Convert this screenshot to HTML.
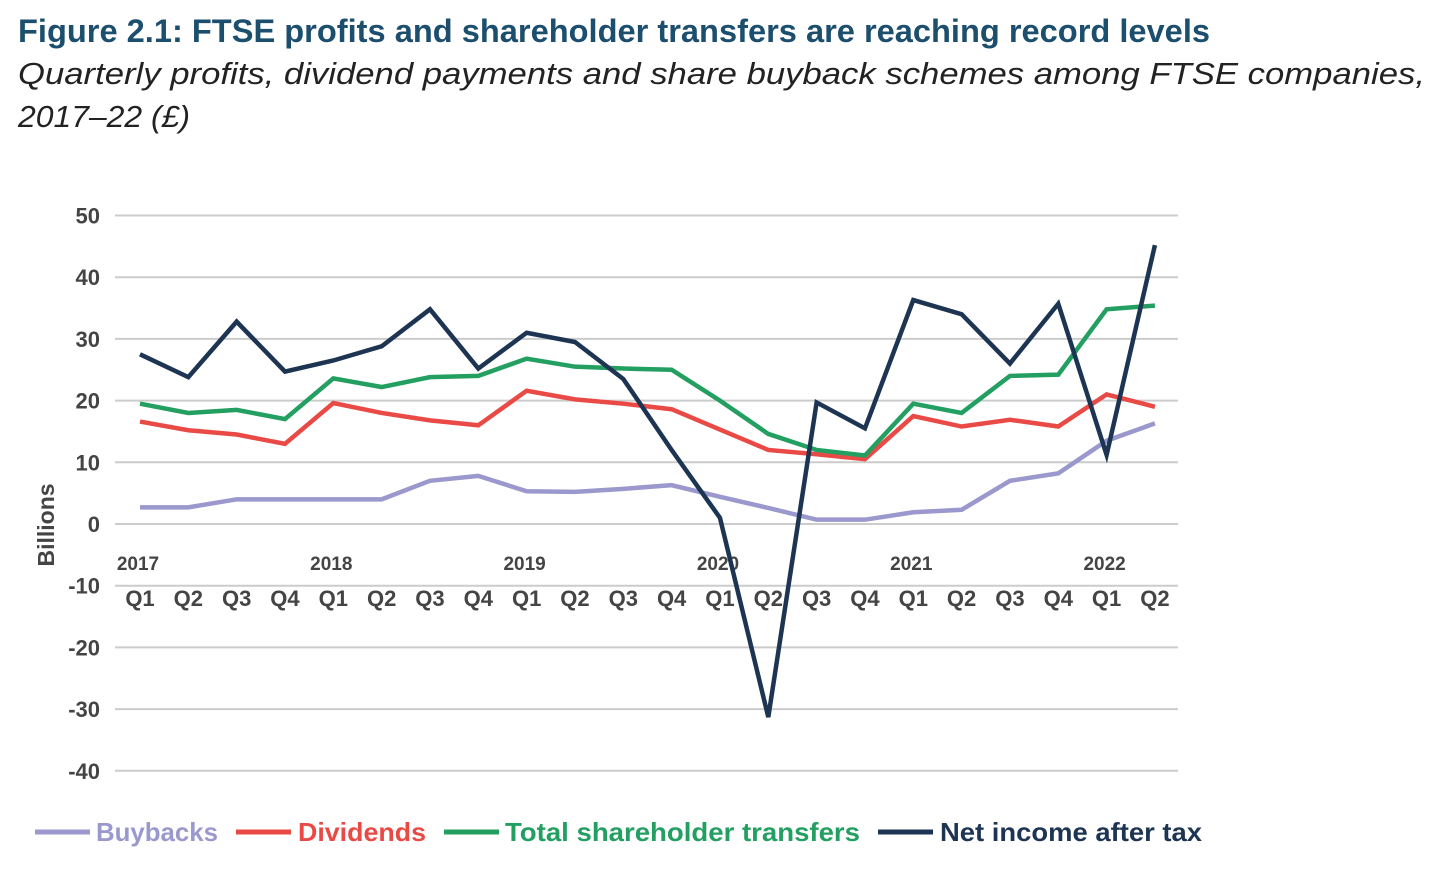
<!DOCTYPE html>
<html><head><meta charset="utf-8"><style>
body{margin:0;background:#fff;width:1448px;height:868px;overflow:hidden;font-family:"Liberation Sans",sans-serif}
</style></head><body>
<svg width="1448" height="868" xmlns="http://www.w3.org/2000/svg">
<text x="18" y="42" font-size="32" font-weight="bold" fill="#1c4e6e" textLength="1192" lengthAdjust="spacingAndGlyphs">Figure 2.1: FTSE profits and shareholder transfers are reaching record levels</text>
<text x="18" y="84" font-size="31" font-style="italic" fill="#222" textLength="1407" lengthAdjust="spacingAndGlyphs">Quarterly profits, dividend payments and share buyback schemes among FTSE companies,</text>
<text x="18" y="127" font-size="31" font-style="italic" fill="#222" textLength="172" lengthAdjust="spacingAndGlyphs">2017–22 (£)</text>
<g id="grid"></g><g id="axes"></g><g id="series"></g>
<text transform="translate(54,525) rotate(-90)" text-anchor="middle" font-size="23" font-weight="bold" fill="#444">Billions</text>
<g id="legend"></g>
</svg>
<script>
const quarters=["Q1","Q2","Q3","Q4","Q1","Q2","Q3","Q4","Q1","Q2","Q3","Q4","Q1","Q2","Q3","Q4","Q1","Q2","Q3","Q4","Q1","Q2"];
const years=["2017","2018","2019","2020","2021","2022"];
const yTicks=[50,40,30,20,10,0,-10,-20,-30,-40];
const buybacks=[2.7,2.7,4,4,4,4,7,7.8,5.3,5.2,5.7,6.3,4.4,2.6,0.7,0.7,1.9,2.3,7,8.2,13.5,16.3];
const dividends=[16.6,15.2,14.5,13,19.6,18,16.8,16,21.6,20.2,19.5,18.6,15.3,12,11.3,10.5,17.5,15.8,16.9,15.8,21,19];
const totalTransfers=[19.5,18,18.5,17,23.6,22.2,23.8,24,26.8,25.5,25.2,25,20,14.6,12,11.1,19.5,18,24,24.2,34.8,35.4];
const netIncome=[27.5,23.8,32.8,24.7,26.5,28.8,34.8,25.2,31,29.5,23.5,12,1,-31.3,19.7,15.5,36.3,34,26,35.7,11.2,45.2];
const NS="http://www.w3.org/2000/svg";
const y=v=>524-v*6.17, x=i=>140+i*48.33;
function mk(t,a,p){const e=document.createElementNS(NS,t);for(const k in a)e.setAttribute(k,a[k]);document.getElementById(p).appendChild(e);return e;}
yTicks.forEach(v=>{
 const l=mk('line',{x1:115,x2:1178,y1:y(v),y2:y(v),stroke:'#ccc','stroke-width':2},'grid');
 
 
 const t=mk('text',{x:100,y:y(v)+8,'text-anchor':'end','font-size':22,'font-weight':'bold',fill:'#444'},'axes');t.textContent=v;
 
 
});
quarters.forEach((q,i)=>{const t=mk('text',{x:x(i),y:606,'text-anchor':'middle','font-size':22,'font-weight':'bold',fill:'#444'},'axes');t.textContent=q;
 
 });
years.forEach((yr,i)=>{const t=mk('text',{x:x(i*4)-2,y:570,'text-anchor':'middle','font-size':19,'font-weight':'bold',fill:'#444'},'axes');t.textContent=yr;
 
 });
const ser=[[buybacks,'#9a98cc','buybacks-line'],[dividends,'#ea4a46','dividends-line'],[totalTransfers,'#23a061','total-transfers-line'],[netIncome,'#1d3552','net-income-line']];
ser.forEach(([d,c,n])=>{const p=mk('polyline',{points:d.map((v,i)=>x(i)+','+y(v)).join(' '),fill:'none',stroke:c,'stroke-width':4.5,'stroke-linejoin':'miter'},'series');
 
 });
const leg=[["Buybacks",'#9a98cc',35,96,122],["Dividends",'#ea4a46',236,298,128],["Total shareholder transfers",'#23a061',444,505,355],["Net income after tax",'#1d3552',878,940,262]];
leg.forEach(([l,c,x1,tx,w])=>{const ln=mk('line',{x1:x1,x2:x1+55,y1:832,y2:832,stroke:c,'stroke-width':5},'legend');
 
 
 const t=mk('text',{x:tx,y:841,'font-size':26,'font-weight':'bold',fill:c,textLength:w,lengthAdjust:'spacingAndGlyphs'},'legend');t.textContent=l;
 
 });
</script>
</body></html>
